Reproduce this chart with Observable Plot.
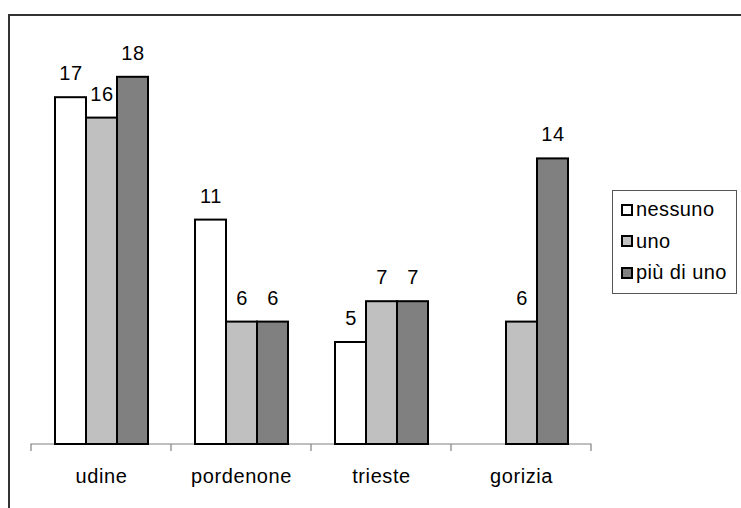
<!DOCTYPE html>
<html>
<head>
<meta charset="utf-8">
<script src="https://cdn.jsdelivr.net/npm/d3@7"></script>
<script src="https://cdn.jsdelivr.net/npm/@observablehq/plot@0.6"></script>
<style>
  html, body { margin: 0; padding: 0; background: #fff; overflow: hidden; }
  #wrap { position: relative; width: 741px; height: 508px; overflow: hidden;
          font-family: "Liberation Sans", Arial, sans-serif; }
  #wrap svg { position: absolute; left: 0; top: 0; }
  #wrap svg text { letter-spacing: 0.6px; }
  .outer { position: absolute; left: 8px; top: 14px; width: 2000px; height: 2000px;
           border-left: 2px solid #333; border-top: 2px solid #333; }
  .legend { position: absolute; left: 612px; top: 190px; width: 115px; height: 99px;
            border: 1px solid #555; padding: 3px 0 0 8px; box-sizing: content-box;
            font-size: 20px; letter-spacing: 0.4px; color: #000; }
  .legend .row { height: 31.5px; display: flex; align-items: center; gap: 3px; }
  .legend .sw { width: 12px; height: 12px; box-sizing: border-box; border: 2px solid #000; flex: none; }
</style>
</head>
<body>
<div id="wrap">
  <div class="outer"></div>
</div>
<script>
// Province (x groups), series and their fills
const regions = ["udine", "pordenone", "trieste", "gorizia"];
const series = ["nessuno", "uno", "più di uno"];
const fills = ["#ffffff", "#c0c0c0", "#808080"];

// Counts per province, one array per series (null = no bar)
const nessuno = [17, 11, 5, null];
const uno = [16, 6, 7, 6];
const piuDiUno = [18, 6, 7, 14];

const seriesValues = [nessuno, uno, piuDiUno];
const rows = [];
regions.forEach((region, i) => {
  series.forEach((s, j) => {
    const v = seriesValues[j][i];
    if (v != null) rows.push({region, series: s, value: v});
  });
});

const font = "'Liberation Sans', Arial, sans-serif";

const chart = Plot.plot({
  width: 741,
  height: 508,
  marginLeft: 30,
  marginRight: 149,
  marginTop: 36,
  marginBottom: 64,
  style: {fontFamily: font, fontSize: "20px", color: "#000", background: "transparent"},
  fx: {domain: regions, padding: 0, label: null},
  x: {domain: series, paddingInner: 0, paddingOuter: 0.73, axis: null},
  y: {domain: [0, 20], axis: null},
  color: {domain: series, range: fills},
  marks: [
    Plot.axisFx({anchor: "bottom", tickSize: 0, tickPadding: 24, label: null, fontSize: 20}),
    Plot.barY(rows, {fx: "region", x: "series", y: "value", fill: "series", stroke: "#000", strokeWidth: 2}),
    Plot.text(rows, {fx: "region", x: "series", y: "value", text: d => String(d.value),
                     dy: -24, fontSize: 20, fill: "#000"})
  ]
});

// Category axis: baseline with ticks on the group boundaries
const fxScale = chart.scale("fx");
const yScale = chart.scale("y");
const y0 = yScale.apply(0);
const edges = regions.map(r => fxScale.apply(r));
edges.push(fxScale.apply(regions[regions.length - 1]) + fxScale.bandwidth);
let d = `M${edges[0]},${y0 + 7}V${y0}H${edges[edges.length - 1]}V${y0 + 7}`;
edges.slice(1, -1).forEach(x => { d += `M${x},${y0}V${y0 + 7}`; });
d3.select(chart).insert("path", "g")
  .attr("d", d)
  .attr("fill", "none")
  .attr("stroke", "#808080")
  .attr("stroke-width", 1.2);

const wrap = document.getElementById("wrap");
wrap.appendChild(chart);

// Legend
const legend = d3.select(wrap).append("div").attr("class", "legend");
series.forEach((s, i) => {
  const row = legend.append("div").attr("class", "row");
  row.append("div").attr("class", "sw").style("background", fills[i]);
  row.append("span").text(s);
});
</script>
</body>
</html>
